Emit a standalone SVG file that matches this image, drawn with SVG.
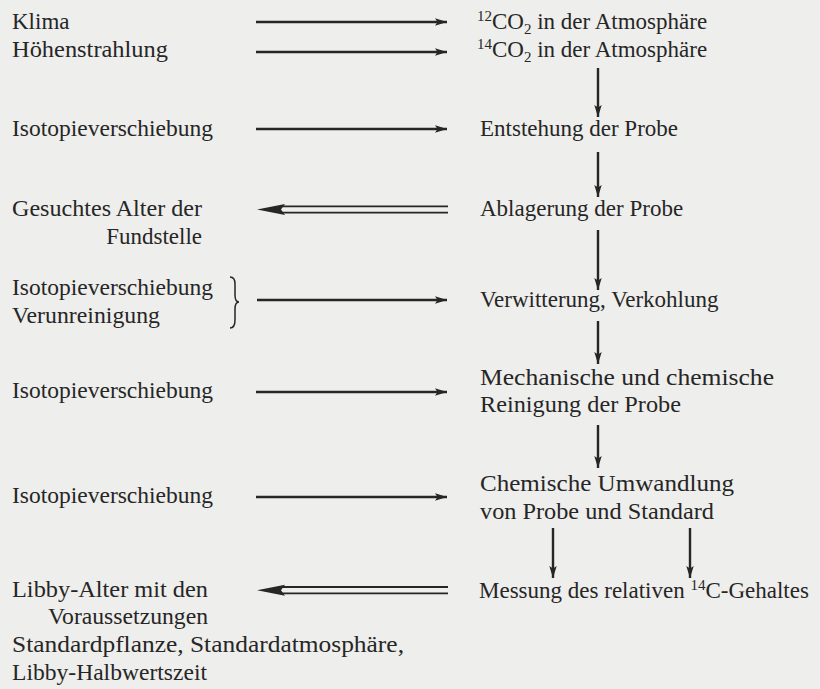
<svg xmlns="http://www.w3.org/2000/svg" width="820" height="689" viewBox="0 0 820 689">
<defs>
<style>
text{font-family:'Liberation Serif','DejaVu Serif',serif;font-size:23px;fill:#262626}
.sup{font-size:15px}
.a{stroke:#262626;stroke-width:2.4;fill:none;marker-end:url(#ah)}
.d{stroke:#262626;stroke-width:1.8;fill:none}
.h{fill:#262626}
.br{stroke:#262626;stroke-width:1.5;fill:none}
</style>
<marker id="ah" markerUnits="userSpaceOnUse" markerWidth="13" markerHeight="9" refX="12" refY="4.5" orient="auto">
<path d="M0,0.8 L12,4.5 L0,8.2 L2.5,4.5 Z" fill="#262626"/>
</marker>
</defs>
<rect width="820" height="689" fill="#eeeeec"/>
<g font-family="Liberation Serif, DejaVu Serif, serif">
<g id="n-klima"><text x="12" y="29">Klima</text></g>
<g id="n-hoehen"><text x="12" y="57" textLength="156" lengthAdjust="spacingAndGlyphs">Höhenstrahlung</text></g>
<g id="n-co12"><text x="477" y="29"><tspan class="sup" dy="-8">12</tspan><tspan dy="8">CO</tspan><tspan class="sup" dy="5">2</tspan><tspan dy="-5"> in der Atmosphäre</tspan></text></g>
<g id="n-co14"><text x="477" y="57"><tspan class="sup" dy="-8">14</tspan><tspan dy="8">CO</tspan><tspan class="sup" dy="5">2</tspan><tspan dy="-5"> in der Atmosphäre</tspan></text></g>

<g id="n-iso1"><text x="12" y="136" textLength="201" lengthAdjust="spacingAndGlyphs">Isotopieverschiebung</text></g>
<g id="n-entstehung"><text x="480" y="136">Entstehung der Probe</text></g>

<g id="n-gesucht"><text x="12" y="216" textLength="190" lengthAdjust="spacingAndGlyphs">Gesuchtes Alter der</text><text x="202" y="244" text-anchor="end">Fundstelle</text></g>
<g id="n-ablagerung"><text x="480" y="216">Ablagerung der Probe</text></g>

<g id="n-iso2"><text x="12" y="295" textLength="201" lengthAdjust="spacingAndGlyphs">Isotopieverschiebung</text><text x="12" y="323" textLength="148" lengthAdjust="spacingAndGlyphs">Verunreinigung</text>
<path class="br" d="M230,277 Q235,277 235,284 L235,295 Q235,302 239,302 Q235,302 235,309 L235,320 Q235,328 230,328"/></g>
<g id="n-verwitterung"><text x="480" y="307">Verwitterung, Verkohlung</text></g>

<g id="n-iso3"><text x="12" y="398" textLength="201" lengthAdjust="spacingAndGlyphs">Isotopieverschiebung</text></g>
<g id="n-mechanisch"><text x="480" y="385" textLength="294" lengthAdjust="spacingAndGlyphs">Mechanische und chemische</text><text x="480" y="412" textLength="201" lengthAdjust="spacingAndGlyphs">Reinigung der Probe</text></g>

<g id="n-iso4"><text x="12" y="503" textLength="201" lengthAdjust="spacingAndGlyphs">Isotopieverschiebung</text></g>
<g id="n-chemisch"><text x="480" y="491" textLength="254" lengthAdjust="spacingAndGlyphs">Chemische Umwandlung</text><text x="480" y="519" textLength="234" lengthAdjust="spacingAndGlyphs">von Probe und Standard</text></g>

<g id="n-libby"><text x="12" y="597" textLength="196" lengthAdjust="spacingAndGlyphs">Libby-Alter mit den</text><text x="48" y="624" textLength="160" lengthAdjust="spacingAndGlyphs">Voraussetzungen</text></g>
<g id="n-messung"><text x="479" y="598">Messung des relativen <tspan class="sup" dy="-8">14</tspan><tspan dy="8">C-Gehaltes</tspan></text></g>
<g id="n-standard"><text x="12" y="652" textLength="392" lengthAdjust="spacingAndGlyphs">Standardpflanze, Standardatmosphäre,</text><text x="12" y="680" textLength="195" lengthAdjust="spacingAndGlyphs">Libby-Halbwertszeit</text></g>
</g>
<g id="connectors">
<line class="a" x1="256" y1="22" x2="447" y2="22"/>
<line class="a" x1="256" y1="52" x2="447" y2="52"/>
<line class="a" x1="598" y1="68" x2="598" y2="117"/>
<line class="a" x1="256" y1="129" x2="447" y2="129"/>
<line class="a" x1="598" y1="152" x2="598" y2="197"/>
<line class="a" x1="598" y1="230" x2="598" y2="290"/>
<line class="a" x1="257" y1="300" x2="447" y2="300"/>
<line class="a" x1="598" y1="321" x2="598" y2="364"/>
<line class="a" x1="256" y1="392" x2="447" y2="392"/>
<line class="a" x1="598" y1="425" x2="598" y2="468"/>
<line class="a" x1="256" y1="497" x2="447" y2="497"/>
<line class="a" x1="553" y1="528" x2="553" y2="578"/>
<line class="a" x1="690" y1="528" x2="690" y2="578"/>
<g id="dbl1">
<line class="d" x1="280" y1="206.3" x2="448" y2="206.3"/>
<line class="d" x1="280" y1="212.7" x2="448" y2="212.7"/>
<path class="h" d="M257,209.5 L285,204 L281,209.5 L285,215 Z"/>
</g>
<g id="dbl2">
<line class="d" x1="280" y1="587" x2="448" y2="587"/>
<line class="d" x1="280" y1="593.4" x2="448" y2="593.4"/>
<path class="h" d="M257,590.2 L285,584.7 L281,590.2 L285,595.7 Z"/>
</g>
</g>
</svg>
